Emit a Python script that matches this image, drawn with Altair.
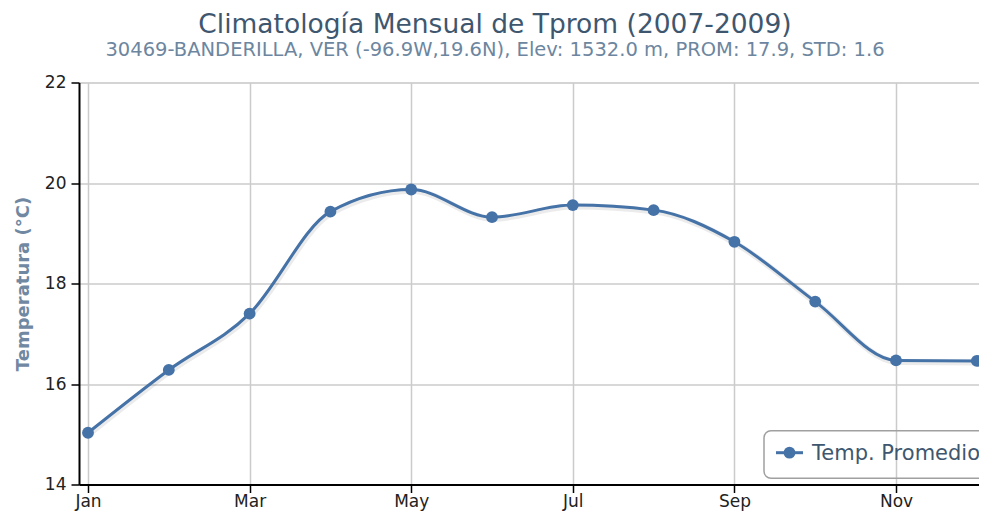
import altair as alt
import pandas as pd

# ---- data ----
month_num = [1, 2, 3, 4, 5, 6, 7, 8, 9, 10, 11, 12]
month_lbl = ["Jan", "Feb", "Mar", "Apr", "May", "Jun", "Jul", "Aug", "Sep", "Oct", "Nov", "Dec"]
tprom = [15.03, 16.28, 17.40, 19.43, 19.87, 19.32, 19.56, 19.46, 18.83, 17.64, 16.47, 16.46]

y_ticks = [14, 16, 18, 20, 22]
x_ticks = [1, 3, 5, 7, 9, 11]

title_text = "Climatología Mensual de Tprom (2007-2009)"
subtitle_text = "30469-BANDERILLA, VER (-96.9W,19.6N), Elev: 1532.0 m, PROM: 17.9, STD: 1.6"
y_title = "Temperatura (°C)"
series_name = "Temp. Promedio"

FONT = "DejaVu Sans"
LINE = "#4572A7"

df = pd.DataFrame({"m": month_num, "t": tprom, "lbl": month_lbl})
leg = pd.DataFrame({"name": [series_name]})

label_expr = "[" + ",".join(f"'{m}'" for m in month_lbl) + "][datum.value - 1]"

x = alt.X(
    "m:Q",
    scale=alt.Scale(domain=[0.8886, 12.027], nice=False, zero=False),
    axis=alt.Axis(
        values=x_ticks, labelExpr=label_expr, title=None,
        grid=True, gridColor="#CBCBCB", gridWidth=1.5,
        domainColor="#000000", domainWidth=2,
        tickColor="#000000", tickWidth=1.5, tickSize=8,
        labelFont=FONT, labelFontSize=17, labelColor="#222222", labelPadding=1,
        labelFlush=False, labelOverlap=False,
    ),
)
y = alt.Y(
    "t:Q",
    scale=alt.Scale(domain=[14, 22], nice=False, zero=False),
    axis=alt.Axis(
        values=y_ticks, title=y_title,
        grid=True, gridColor="#CBCBCB", gridWidth=1.5,
        domainColor="#000000", domainWidth=2,
        tickColor="#000000", tickWidth=1.5, tickSize=8,
        labelFont=FONT, labelFontSize=17, labelColor="#222222", labelPadding=5,
        titleFont=FONT, titleFontSize=18, titleFontWeight="bold",
        titleColor="#7088A2", titlePadding=12,
    ),
)

base = alt.Chart(df)

shadow = base.mark_line(
    interpolate="monotone", stroke="#000000", strokeOpacity=0.08,
    strokeWidth=6, xOffset=1, yOffset=1.5,
).encode(x=x, y=y)

line = base.mark_line(
    interpolate="monotone", stroke=LINE, strokeWidth=3,
).encode(x=x, y=y)

pts = base.mark_point(
    filled=True, color=LINE, size=140, opacity=1, shape="circle",
).encode(x=x, y=y)

legbox = alt.Chart(leg).mark_rect(
    fill=None, fillOpacity=0, stroke="#A0A0A0", strokeWidth=1.5, cornerRadius=7,
).encode(x=alt.value(685), x2=alt.value(925), y=alt.value(348.2), y2=alt.value(395.8))

legline = alt.Chart(leg).mark_rule(stroke=LINE, strokeWidth=3).encode(
    x=alt.value(697), x2=alt.value(724), y=alt.value(370.2)
)
legpt = alt.Chart(leg).mark_point(filled=True, color=LINE, size=140, opacity=1).encode(
    x=alt.value(710.5), y=alt.value(370.2)
)
legtxt = alt.Chart(leg).mark_text(
    align="left", baseline="middle", font=FONT, fontSize=21, color="#3E576F",
).encode(x=alt.value(733), y=alt.value(371), text="name:N")

chart = alt.layer(shadow, line, pts, legbox, legline, legpt, legtxt).properties(
    width=900, height=402,
    autosize=alt.AutoSizeParams(type="none"),
    padding={"left": 71, "top": 74.5, "right": 0, "bottom": 27},
    title=alt.Title(
        text=title_text, subtitle=subtitle_text,
        font=FONT, fontSize=26.5, fontWeight="normal", color="#3E576F",
        subtitleFont=FONT, subtitleFontSize=19.5, subtitleColor="#6D869F",
        subtitlePadding=3, anchor="middle", dx=-34, offset=14,
    ),
).configure_view(stroke=None).configure(background="white")

chart.save("out.html", embed_options={"renderer": "svg", "actions": False})
